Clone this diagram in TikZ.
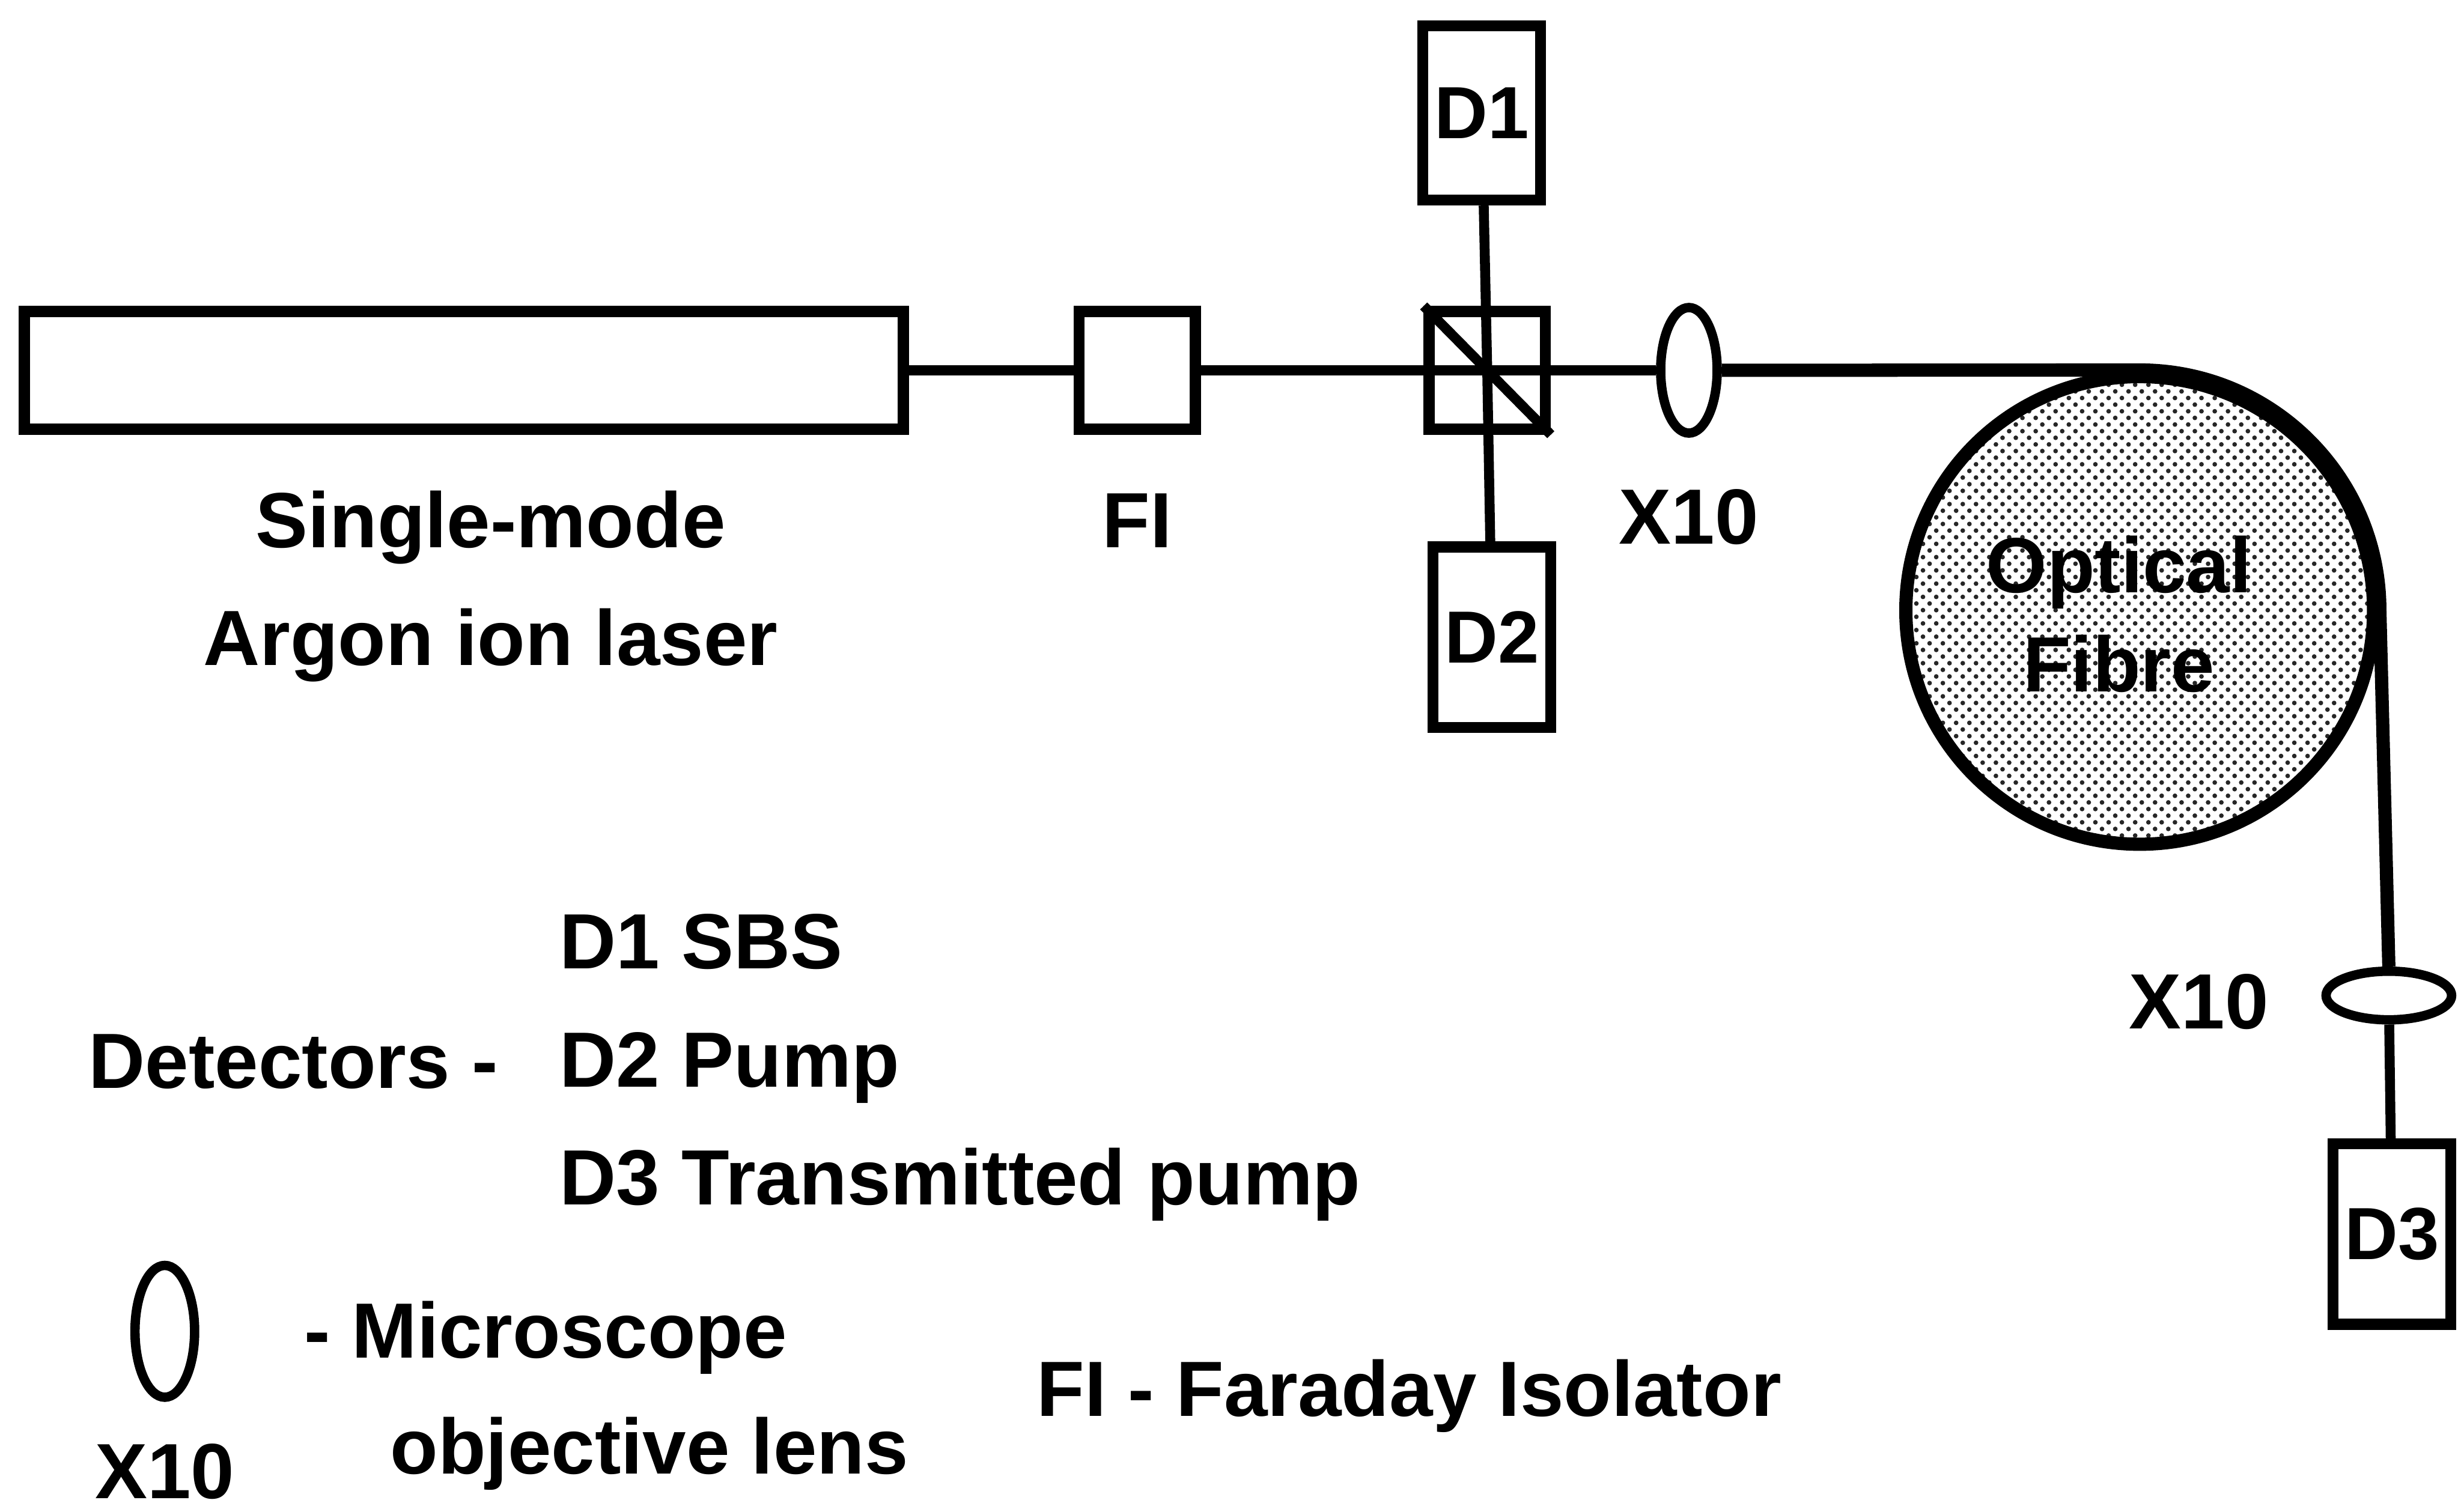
\documentclass[tikz,border=0pt]{standalone}
\usepackage{fontspec}
\setmainfont{Liberation Sans}
\usepackage{xcolor}
\usetikzlibrary{positioning, shapes.geometric, patterns.meta}

\begin{document}
\begin{tikzpicture}[
		node distance=1.0cm and 1.0cm,
		every node/.style={font=\fontsize{14.2}{21.4}\selectfont\bfseries, inner sep=0pt},
		element/.style={rectangle, draw, line width=2pt},
		isolator/.style={element, minimum width=0.74cm, minimum height=0.75cm},
		detector/.style={element, minimum width=0.75cm, minimum height=1.15cm, font=\fontsize{13.4}{16}\selectfont\bfseries},
		lens/.style={ellipse, draw, line width=1.7pt, fill=white, minimum width=0.36cm, minimum height=0.80cm},
		flatlens/.style={ellipse, draw, line width=1.7pt, fill=white, minimum width=0.80cm, minimum height=0.31cm},
		coil/.style={circle, draw, line width=2.4pt, minimum size=2.98cm, preaction={fill=white}, pattern={Dots[distance=1.7pt, radius=0.42pt, angle=45]}, pattern color=black!85},
		beam/.style={line width=1.8pt},
		fibreline/.style={line width=2.4pt}
		]
		\useasboundingbox (0,0) rectangle (15.68,9.634);

		\node[element, minimum width=5.60cm, minimum height=0.75cm] (laser) at (2.955,7.274) {};
		\node[isolator, right=1.05cm of laser] (fi) {};
		\node[isolator, right=1.42cm of fi] (bs) {};
		\node[detector, above=0.64cm of bs, xshift=-0.035cm, minimum height=1.11cm] (d1) {D1};
		\node[detector, below=0.68cm of bs, xshift=0.03cm] (d2) {D2};
		\node[lens, right=0.67cm of bs] (lensa) {};

		\node[coil, right=1.13cm of lensa, yshift=-1.53cm] (fibre) {};
		\node[flatlens] (lensb) at (15.22,3.29) {};
		\node[detector] (d3) at (15.24,1.77) {D3};

		\draw[beam] (laser) -- (fi);
		\draw[beam] (fi) -- (bs.center);
		\draw[beam] (bs.center) -- (lensa);
		\draw[beam] (d1) -- (bs.center);
		\draw[beam] (bs.center) -- (d2);
		\draw[beam] (bs.north west) -- (bs.south east);
		\draw[fibreline] (lensa.east) -- (fibre.north) arc (90:0:1.53) -- (lensb.north);
		\draw[beam] (lensb) -- (d3);

		% labels
		\node[below=0.35cm of laser, xshift=0.17cm, align=center] (lasertext) {Single-mode\\Argon ion laser};
		\node[below=0.37cm of fi] (fitext) {FI};
		\node[below=0.32cm of lensa] (xa) {X10};
		\node[left=0.33cm of lensb, yshift=-0.04cm] (xb) {X10};
		\node[align=center, font=\fontsize{14.2}{18}\selectfont\bfseries] (fibretext) at (13.50,5.72) {Optical\\Fibre};

		% key
		\node[anchor=west, align=left] (dlist) at (3.56,2.83) {D1 SBS\\D2 Pump\\D3 Transmitted pump};
		\node[left=0.38cm of dlist, yshift=0.04cm] (dtext) {Detectors -};
		\node[lens, minimum width=0.38cm, minimum height=0.84cm] (lensc) at (1.05,1.15) {};
		\node[below=0.26cm of lensc] (xc) {X10};
		\node[anchor=west] (mtext) at (1.93,1.11) {- Microscope};
		\node[anchor=west] (otext) at (2.48,0.37) {objective lens};
		\node[anchor=west] (fikey) at (6.60,0.74) {FI - Faraday Isolator};
	\end{tikzpicture}
\end{document}
